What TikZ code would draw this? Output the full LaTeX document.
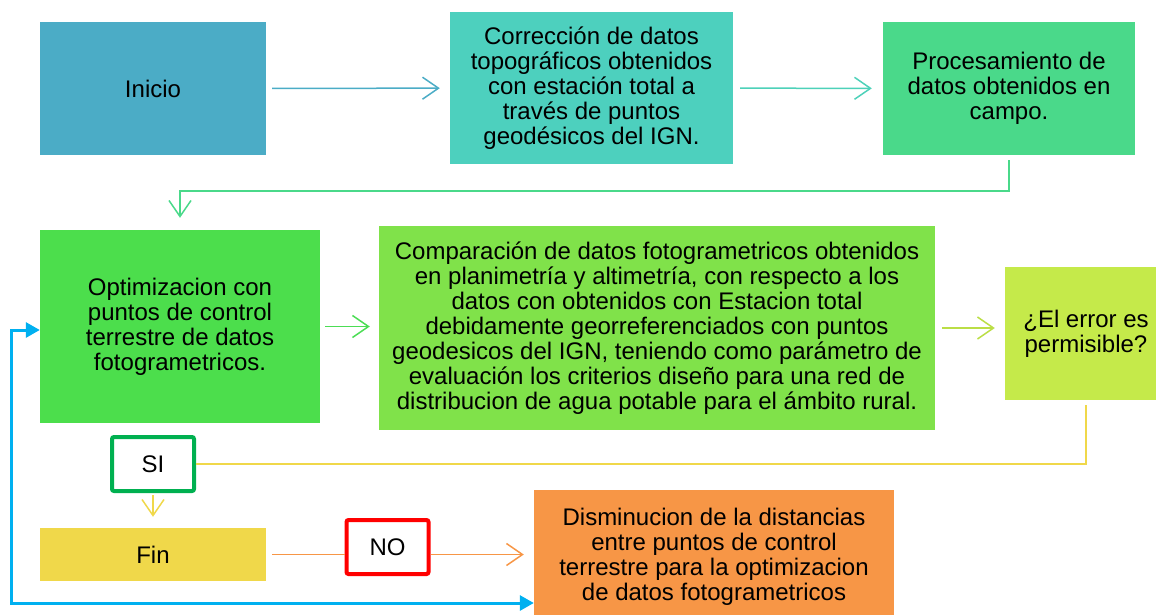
\documentclass[tikz,border=0pt]{standalone}
\usepackage{fontspec}
\setmainfont{Liberation Sans}
\usetikzlibrary{arrows.meta}
\usepackage{xcolor}
\definecolor{inicioc}{HTML}{4BACC6}
\definecolor{correc}{HTML}{4DD0BE}
\definecolor{procec}{HTML}{4AD98A}
\definecolor{optic}{HTML}{4CDE4C}
\definecolor{compac}{HTML}{80E24A}
\definecolor{errorc}{HTML}{C5EA4A}
\definecolor{finc}{HTML}{F0D84A}
\definecolor{dismic}{HTML}{F79646}
\definecolor{vuelta}{HTML}{00B0F0}
\definecolor{sic}{HTML}{00B050}

\begin{document}
\begin{tikzpicture}[x=1pt,y=-1pt,
		box/.style={rectangle,inner sep=0pt,align=center,font=\fontsize{24}{25}\selectfont},
		tag/.style={box,fill=white,line width=4pt,rounded corners=2pt,minimum width=82pt,minimum height=54pt},
		flecha/.style={line width=1.5pt,-{Straight Barb[length=16pt,width=22pt,line width=1.5pt]}},
		linea/.style={line width=1.5pt}]
		\useasboundingbox (0,0) rectangle (1156,614);
		%boxes
		\node[box,fill=inicioc,minimum width=226pt,minimum height=133pt] (inicio) at (153,88.5) {Inicio};
		\node[box,fill=correc,minimum width=283pt,minimum height=152pt] (correccion) at (591.5,88) {Corrección de datos\\topográficos obtenidos\\con estación total a\\través de puntos\\geodésicos del IGN.};
		\node[box,fill=procec,minimum width=252pt,minimum height=133pt] (procesamiento) at (1009,88.5) {Procesamiento de\\datos obtenidos en\\campo.};
		\node[box,fill=optic,minimum width=280pt,minimum height=193pt] (optimizacion) at (180,326.5) {Optimizacion con\\puntos de control\\terrestre de datos\\fotogrametricos.};
		\node[box,fill=compac,minimum width=556pt,minimum height=204pt] (comparacion) at (657,328) {Comparación de datos fotogrametricos obtenidos\\en planimetría y altimetría, con respecto a los\\datos con obtenidos con Estacion total\\debidamente georreferenciados con puntos\\geodesicos del IGN, teniendo como parámetro de\\evaluación los criterios diseño para una red de\\distribucion de agua potable para el ámbito rural.};
		\node[box,fill=errorc,minimum width=162pt,minimum height=133pt] (error) at (1086,333.5) {¿El error es\\permisible?};
		\node[box,fill=finc,minimum width=226pt,minimum height=53pt] (fin) at (153,554.5) {Fin};
		\node[box,fill=dismic,minimum width=360pt,minimum height=134pt] (disminucion) at (714,557) {Disminucion de la distancias\\entre puntos de control\\terrestre para la optimizacion\\de datos fotogrametricos};
		\coordinate (esquina) at (11,603);
		%arrows
		\draw[flecha,inicioc,shorten <=6pt,shorten >=10pt] (inicio) -- (correccion);
		\draw[flecha,correc!90!procec,shorten <=7pt,shorten >=11pt] (correccion) -- (procesamiento);
		\draw[flecha,procec,shorten <=5pt,shorten >=12pt] (procesamiento.south) -- ++(0,36) -| (optimizacion.north);
		\draw[flecha,optic!85!procec,shorten <=5pt,shorten >=9pt] (optimizacion.east) -- (optimizacion.east -| comparacion.west);
		\draw[flecha,errorc!95!black,shorten <=7pt,shorten >=10pt] (comparacion.east) -- (comparacion.east -| error.west);
		%SI and NO
		\node[tag,draw=sic] (si) at (153,464) {SI};
		\node[tag,draw=red] (no) at (387.5,547) {NO};
		\draw[linea,finc,shorten <=5pt] (error.south) |- (si.east);
		\draw[flecha,finc,shorten <=2pt,shorten >=11pt] (si.south) -- (fin.north);
		\draw[linea,dismic,shorten <=6pt] (fin.east) -- (fin.east -| no.west);
		\draw[flecha,dismic,shorten >=10pt] (no.east |- fin.east) -- (disminucion.west |- fin.east);
		%back
		\draw[vuelta,line width=3pt,{Triangle[length=14pt,width=15pt]}-{Triangle[length=14pt,width=15pt]}] ([yshift=-3.5pt]optimizacion.west) -| (esquina) -- (esquina -| disminucion.west);
\end{tikzpicture}
\end{document}
